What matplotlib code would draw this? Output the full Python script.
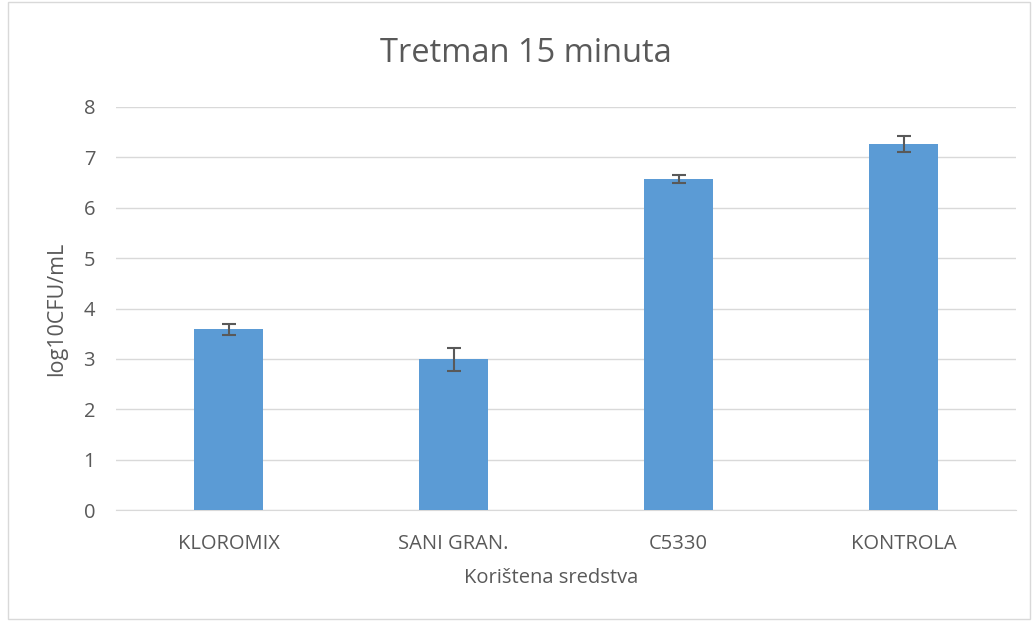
import numpy as np
import matplotlib.pyplot as plt
from matplotlib.patches import Rectangle

# Data
categories = ['KLOROMIX', 'SANI GRAN.', 'C5330', 'KONTROLA']
values = [3.59, 2.99, 6.58, 7.27]
errors = [0.11, 0.23, 0.08, 0.155]
y_ticks = [0, 1, 2, 3, 4, 5, 6, 7, 8]

plt.rcParams['font.family'] = ['Open Sans', 'DejaVu Sans']
text_color = '#595959'

fig = plt.figure(figsize=(10.32, 6.23), dpi=100)
ax = fig.add_axes([116 / 1032, 1 - 510 / 623, 900 / 1032, 403 / 623])

x = np.arange(len(categories))
ax.bar(x, values, width=0.31, color='#5b9bd5', zorder=3,
       yerr=errors, capsize=5,
       error_kw=dict(ecolor='#595959', elinewidth=1.5, capthick=1.5, zorder=4))

ax.set_xlim(-0.5, len(categories) - 0.5)
ax.set_ylim(0, 8)
ax.set_yticks(y_ticks)
ax.set_xticks(x)
ax.set_xticklabels(categories)
ax.tick_params(axis='both', length=0, labelsize=14.5, colors=text_color)
ax.tick_params(axis='x', pad=17)
ax.tick_params(axis='y', pad=15)
ax.grid(axis='y', color='#d9d9d9', linewidth=1, zorder=0)
for s in ['top', 'right', 'left']:
    ax.spines[s].set_visible(False)
ax.spines['bottom'].set_color('#d9d9d9')

ax.set_xlabel('Korištena sredstva', fontsize=14.5, color=text_color)
ax.xaxis.set_label_coords(0.484, -0.145)
ax.set_ylabel('log10CFU/mL', fontsize=15.5, color=text_color, labelpad=12)
fig.text(0.510, 1 - 54 / 623, 'Tretman 15 minuta', fontsize=23.5,
         color=text_color, ha='center', va='center')

# light outer chart border
fig.patches.append(Rectangle((0.008, 0.006), 0.99, 0.99, transform=fig.transFigure,
                             fill=False, edgecolor='#d9d9d9', linewidth=1))

fig.savefig('out.png', dpi=100)
